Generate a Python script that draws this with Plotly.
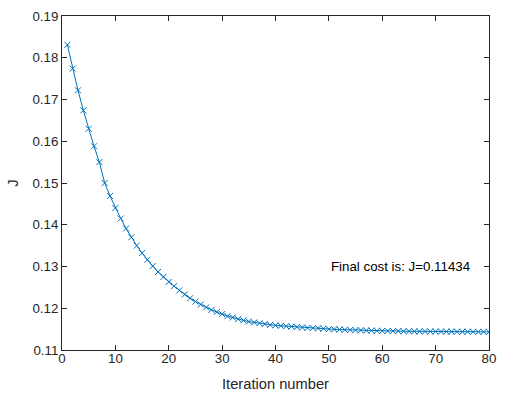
import plotly.graph_objects as go

iterations = list(range(1, 81))
cost_J = [
    0.1831, 0.1774, 0.1722, 0.1674, 0.1630, 0.1588, 0.1550, 0.1500, 0.1469, 0.1440,
    0.1415, 0.1391, 0.1370, 0.1350, 0.1332, 0.1316, 0.1301, 0.1287, 0.1275, 0.1263,
    0.1253, 0.1243, 0.1233, 0.1224, 0.1216, 0.1209, 0.1202, 0.1196, 0.1191, 0.1186,
    0.1181, 0.1178, 0.1174, 0.1171, 0.1168, 0.1166, 0.1164, 0.1162, 0.1160, 0.1159,
    0.1158, 0.1157, 0.1156, 0.1155, 0.1154, 0.1153, 0.11525, 0.1152, 0.1151, 0.1150,
    0.11495, 0.1149, 0.11485, 0.1148, 0.11475, 0.11471, 0.11467, 0.11464, 0.11461, 0.11458,
    0.11456, 0.11454, 0.11452, 0.1145, 0.11448, 0.11447, 0.11446, 0.11445, 0.11444, 0.11443,
    0.11442, 0.11441, 0.1144, 0.11439, 0.11438, 0.11437, 0.11436, 0.11435, 0.11435, 0.11434,
]
x_ticks = [0, 10, 20, 30, 40, 50, 60, 70, 80]
y_ticks = [0.11, 0.12, 0.13, 0.14, 0.15, 0.16, 0.17, 0.18, 0.19]
final_text = "Final cost is: J=0.11434"
final_pos = (50, 0.13)

FONT = "Liberation Sans, Arial, Helvetica, sans-serif"
AX = "#262626"

fig = go.Figure()
fig.add_trace(go.Scatter(
    x=iterations, y=cost_J, mode="lines+markers",
    line=dict(color="#0072BD", width=1),
    marker=dict(symbol="x-thin", size=6, line=dict(color="#0072BD", width=1)),
    showlegend=False,
))
fig.add_annotation(
    x=final_pos[0], y=final_pos[1], text=final_text, showarrow=False,
    xanchor="left", yanchor="middle", font=dict(family=FONT, size=13.3, color="black"),
)
axis_common = dict(
    showgrid=False, zeroline=False, showline=True, linecolor=AX, linewidth=1,
    mirror="ticks", ticks="inside", ticklen=5, tickwidth=1, tickcolor=AX,
    tickfont=dict(family=FONT, size=13.3, color=AX),
)
fig.update_xaxes(
    range=[0, 80], tickvals=x_ticks, ticktext=[str(v) for v in x_ticks],
    ticklabelstandoff=-4,
    title=dict(text="Iteration number", font=dict(family=FONT, size=14.7, color=AX), standoff=13),
    **axis_common,
)
fig.update_yaxes(
    range=[0.11, 0.19], tickvals=y_ticks, ticktext=[f"{v:.2f}" for v in y_ticks],
    title=dict(text="J", font=dict(family=FONT, size=14.7, color=AX), standoff=10),
    **axis_common,
)
fig.update_layout(
    width=505, height=398,
    margin=dict(l=62, r=9, t=9, b=47),
    paper_bgcolor="white", plot_bgcolor="white",
)
fig.write_html("out.html")
